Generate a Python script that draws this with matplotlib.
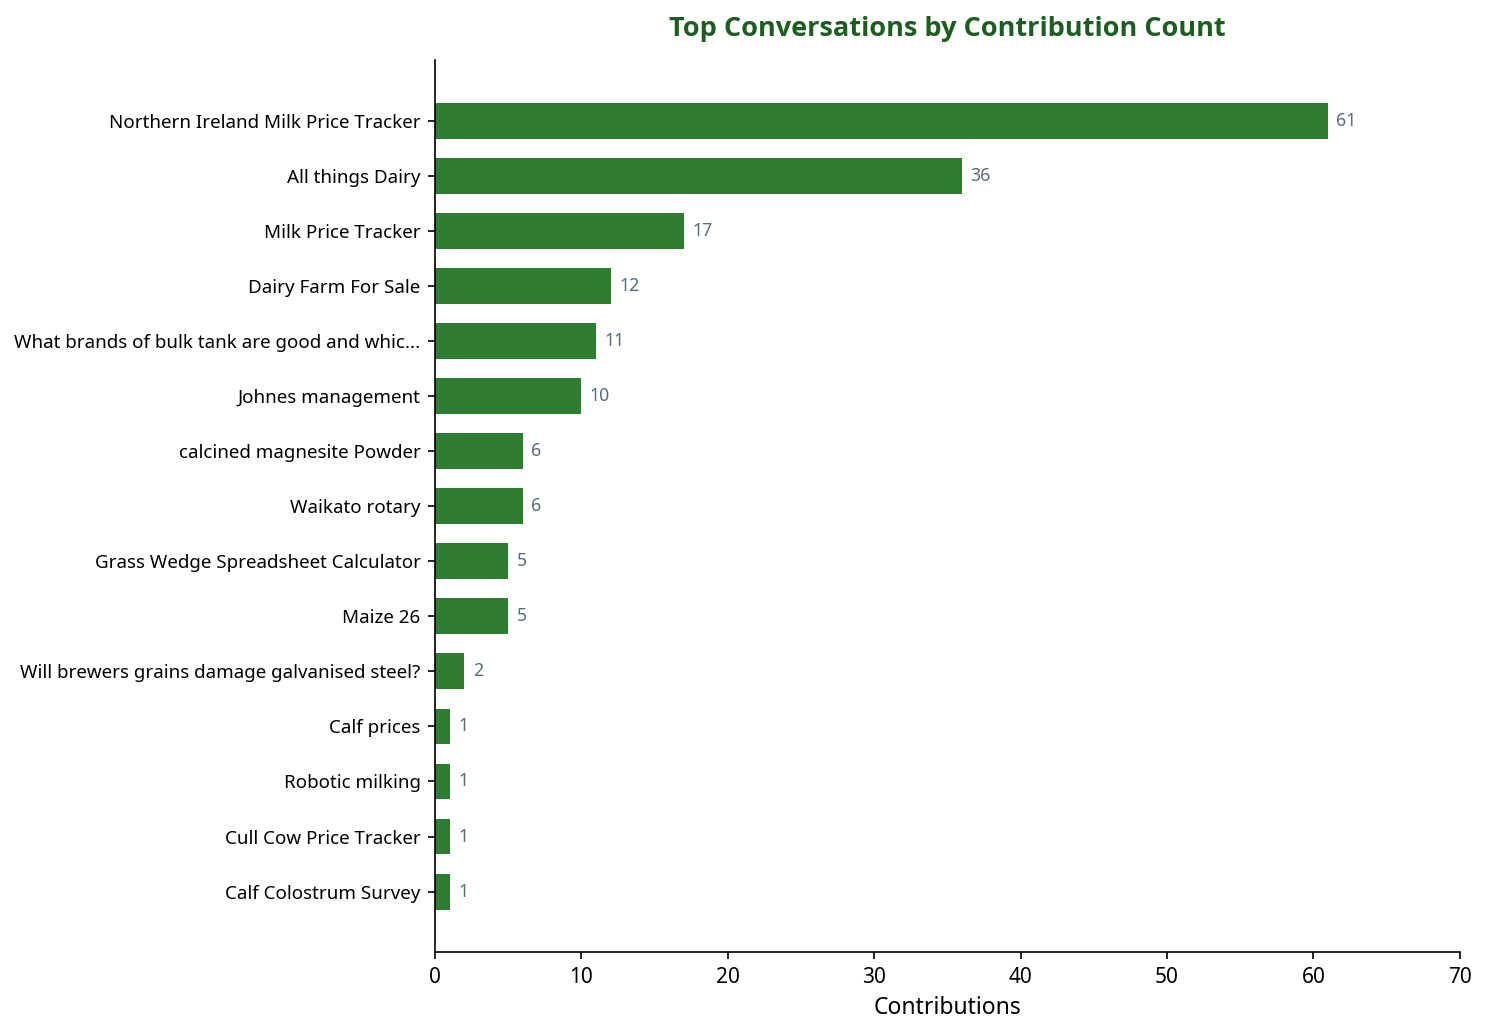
import matplotlib.pyplot as plt

plt.rcParams['font.family'] = ['Noto Sans', 'DejaVu Sans']

topics = [
    "Northern Ireland Milk Price Tracker",
    "All things Dairy",
    "Milk Price Tracker",
    "Dairy Farm For Sale",
    "What brands of bulk tank are good and whic...",
    "Johnes management",
    "calcined magnesite Powder",
    "Waikato rotary",
    "Grass Wedge Spreadsheet Calculator",
    "Maize 26",
    "Will brewers grains damage galvanised steel?",
    "Calf prices",
    "Robotic milking",
    "Cull Cow Price Tracker",
    "Calf Colostrum Survey",
]
counts = [61, 36, 17, 12, 11, 10, 6, 6, 5, 5, 2, 1, 1, 1, 1]

fig = plt.figure(figsize=(9.9, 6.9), dpi=150)
ax = fig.add_axes([0.293, 0.080, 0.690, 0.862])

pos = list(range(len(topics)))
bars = ax.barh(pos, counts, height=0.65, color="#2e7d32")
ax.set_yticks(pos)
ax.set_yticklabels(topics, fontsize=9)
ax.set_ylim(len(topics) - 1 + 1.1, -1.1)
ax.set_xlim(0, 70)
ax.tick_params(axis="x", labelsize=10)

# value labels at the end of each bar
for b, c in zip(bars, counts):
    ax.annotate(str(c), (b.get_width(), b.get_y() + b.get_height() / 2),
                xytext=(4, 0), textcoords="offset points",
                va="center", ha="left", fontsize=8.5, color="#546e7a")

ax.spines["top"].set_visible(False)
ax.spines["right"].set_visible(False)
ax.set_xlabel("Contributions", fontsize=11)
ax.set_title("Top Conversations by Contribution Count", fontsize=13,
             fontweight="bold", color="#1b5e20", pad=11.5,
             family=["Open Sans", "Noto Sans", "DejaVu Sans"])

fig.savefig("out.png", dpi=150)
